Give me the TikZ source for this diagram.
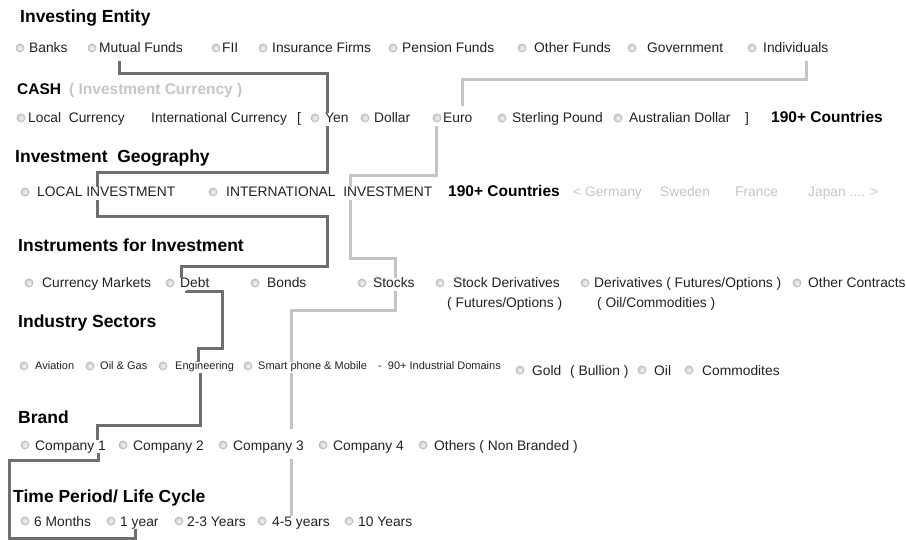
\documentclass[tikz,border=0pt]{standalone}
\usepackage{fontspec}
\setmainfont{Liberation Sans}
\definecolor{ink}{HTML}{222222}
\definecolor{faint}{HTML}{C6C6C6}
\definecolor{darkrun}{HTML}{6F6F6F}
\definecolor{lightrun}{HTML}{C4C4C4}

\begin{document}
\begin{tikzpicture}[x=1pt,y=-1pt,
    head/.style={anchor=base west,inner sep=0pt,font=\bfseries\fontsize{17.5}{20}\selectfont,text=black},
    subhead/.style={anchor=base west,inner sep=0pt,font=\bfseries\fontsize{15.5}{18}\selectfont,text=black},
    item/.style={anchor=base west,inner sep=0pt,text height=10pt,text depth=3pt,font=\fontsize{13.8}{16}\selectfont,text=ink},
    small/.style={anchor=base west,inner sep=0pt,text height=8pt,text depth=2.5pt,font=\fontsize{11}{13}\selectfont,text=ink},
    radio/.style={draw=gray!55,line width=0.7pt,inner color=gray!8,outer color=gray!40},
    darkline/.style={draw=darkrun,line width=3pt},
    lightline/.style={draw=lightrun,line width=3pt}]
        \fill[white] (0,0) rectangle (906,540);
        \useasboundingbox (0,0) rectangle (906,540);

        \node[head] (entity) at (20,22.5) {Investing Entity};
        \foreach \bx in {20,92,216,263,393,522,632,752}
            \shadedraw[radio] (\bx,48) circle (4pt);
        \node[item] (banks) at (29,53) {Banks};
        \node[item] (mf) at (99,53) {Mutual Funds};
        \node[item] (fii) at (222,53) {FII};
        \node[item] (ins) at (272,53) {Insurance Firms};
        \node[item] (pen) at (402,53) {Pension Funds};
        \node[item] (oth) at (534,53) {Other Funds};
        \node[item] (gov) at (647,53) {Government};
        \node[item] (ind) at (763,53) {Individuals};

        \node[subhead] (cash) at (17,95) {CASH};
        \node[subhead,text=faint] (cashnote) at (69,95) {( Investment Currency )};
        \foreach \bx in {21,315,365,437,502,618}
            \shadedraw[radio] (\bx,118) circle (4pt);
        \node[item] (loc) at (28,123) {Local\ \ Currency};
        \node[item] (intc) at (151,123) {International Currency};
        \node[item] (lbr) at (297,123) {[};
        \node[item] (yen) at (325,123) {Yen};
        \node[item] (usd) at (374,123) {Dollar};
        \node[item] (euro) at (443,123) {Euro};
        \node[item] (gbp) at (512,123) {Sterling Pound};
        \node[item] (aud) at (629,123) {Australian Dollar};
        \node[item] (rbr) at (745,123) {]};
        \node[subhead] (cty1) at (771,123) {190+ Countries};

        \node[head] (geo) at (15,162.5) {Investment\ \ Geography};
        \foreach \bx in {25,213}
            \shadedraw[radio] (\bx,192) circle (4pt);
        \node[item] (lcl) at (37,197) {LOCAL INVESTMENT};
        \node[item] (intl) at (226,197) {INTERNATIONAL\ \ INVESTMENT};
        \node[subhead] (cty2) at (448,197) {190+ Countries};
        \node[item,text=faint] (ger) at (573,197) {< Germany};
        \node[item,text=faint] (swe) at (660,197) {Sweden};
        \node[item,text=faint] (fra) at (735,197) {France};
        \node[item,text=faint] (jap) at (808,197) {Japan .... >};

        \node[head] (instr) at (18,252) {Instruments for Investment};
        \foreach \bx in {29,170,255,362,440,585,797}
            \shadedraw[radio] (\bx,283) circle (4pt);
        \node[item] (cur) at (42,288) {Currency Markets};
        \node[item] (debt) at (180,288) {Debt};
        \node[item] (bond) at (267,288) {Bonds};
        \node[item] (stk) at (373,288) {Stocks};
        \node[item] (sder) at (453,288) {Stock Derivatives};
        \node[item] (sdertwo) at (447,308) {( Futures/Options )};
        \node[item] (der) at (594,288) {Derivatives ( Futures/Options )};
        \node[item] (dertwo) at (597,308) {( Oil/Commodities )};
        \node[item] (occ) at (808,288) {Other Contracts};

        \node[head] (sect) at (18,328) {Industry Sectors};
        \foreach \bx in {24,90,163,248}
            \shadedraw[radio] (\bx,366) circle (4pt);
        \node[small] (avi) at (35,370) {Aviation};
        \node[small] (oag) at (100,370) {Oil \& Gas};
        \node[small] (eng) at (175,370) {Engineering};
        \node[small] (smp) at (258,370) {Smart phone \& Mobile};
        \node[small] (dom) at (378,370) {-\ \ 90+ Industrial Domains};
        \foreach \bx in {520,642,689}
            \shadedraw[radio] (\bx,370) circle (4pt);
        \node[item] (gold) at (532,375) {Gold};
        \node[item] (bul) at (570,375) {( Bullion )};
        \node[item] (oil) at (654,375) {Oil};
        \node[item] (com) at (702,375) {Commodites};

        \node[head] (brand) at (18,423) {Brand};
        \foreach \bx in {25,123,223,323,423}
            \shadedraw[radio] (\bx,445) circle (4pt);
        \node[item] (co1) at (35,450) {Company 1};
        \node[item] (co2) at (133,450) {Company 2};
        \node[item] (co3) at (233,450) {Company 3};
        \node[item] (co4) at (333,450) {Company 4};
        \node[item] (nob) at (434,450) {Others ( Non Branded )};

        \node[head] (life) at (13,502) {Time Period/ Life Cycle};
        \foreach \bx in {25,111,179,262,349}
            \shadedraw[radio] (\bx,521) circle (4pt);
        \node[item] (m6) at (34,526) {6 Months};
        \node[item] (y1) at (120,526) {1 year};
        \node[item] (y23) at (187,526) {2-3 Years};
        \node[item] (y45) at (272,526) {4-5 years};
        \node[item] (y10) at (358,526) {10 Years};

        \draw[darkline] ([xshift=20pt,yshift=-5pt]mf.south west) |- (327,74) -- ([xshift=2pt]yen.north west);
        \draw[darkline] ([xshift=2pt]yen.south west) |- (97,173) -- ([xshift=60pt]lcl.north west);
        \draw[darkline] ([xshift=60pt]lcl.south west) |- (327,217) |- (181,267) -- ([xshift=1pt]debt.north west);
        \draw[darkline] ([xshift=6pt]debt.south west) |- (222,292) |- (198,349) -- ([xshift=23pt]eng.north west);
        \draw[darkline] ([xshift=25pt]eng.south west) |- (97,425) -- ([xshift=62pt]co1.north west);
        \draw[darkline] ([xshift=63pt]co1.south west) |- (9,460) |- (135,538) -- ([xshift=15pt]y1.south west);

        \draw[lightline] ([xshift=43pt,yshift=-5pt]ind.south west) |- (462,80) -- ([xshift=19pt,yshift=7pt]euro.north west);
        \draw[lightline] ([xshift=-7pt]euro.south west) |- (350,176) -- ([xshift=124pt]intl.north west);
        \draw[lightline] ([xshift=124pt]intl.south west) |- (395,259) -- ([xshift=22pt]stk.north west);
        \draw[lightline] ([xshift=22pt]stk.south west) |- (291,311) -- ([xshift=33pt]smp.north west);
        \draw[lightline,shorten >=11pt] ([xshift=33pt]smp.south west) -- ([xshift=58pt]co3.north west);
        \draw[lightline,shorten <=6pt] ([xshift=58pt]co3.south west) -- ([xshift=19pt]y45.north west);
\end{tikzpicture}
\end{document}
